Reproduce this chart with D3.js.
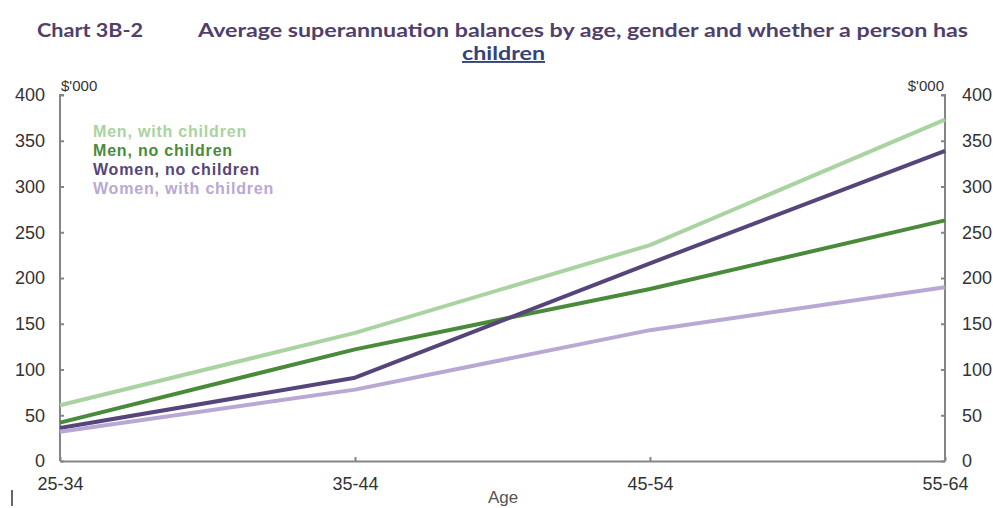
<!DOCTYPE html>
<html>
<head>
<meta charset="utf-8">
<script src="https://cdn.jsdelivr.net/npm/d3@7"></script>
<style>
  body { margin: 0; background: #fff; }
  svg { display: block; }
</style>
</head>
<body>
<svg id="chart" width="993" height="508"></svg>
<script>
// Age groups along the horizontal axis
const ageGroups = ["25-34", "35-44", "45-54", "55-64"];

// Average balances, $'000
const menWithChildren   = [61, 140, 236, 373];
const menNoChildren     = [42, 122, 188, 263];
const womenNoChildren   = [36, 91, 216, 339];
const womenWithChildren = [32, 78, 143, 190];

const seriesNames  = ["Men, with children", "Men, no children", "Women, no children", "Women, with children"];
const seriesColors = ["#a9d3a0", "#4a8b3b", "#56457a", "#b9a8d4"];
const seriesValues = [menWithChildren, menNoChildren, womenNoChildren, womenWithChildren];

const yTicks = [0, 50, 100, 150, 200, 250, 300, 350, 400];

const svg = d3.select("#chart");
const plotLeft = 60, plotRight = 945, plotTop = 95, plotBottom = 461;

const x = d3.scalePoint().domain(ageGroups).range([plotLeft, plotRight]);
const y = d3.scaleLinear().domain([0, 400]).range([plotBottom, plotTop]);

// Title
const titleFont = "Lato, 'Open Sans', sans-serif";
svg.append("text")
  .attr("x", 37).attr("y", 37)
  .attr("font-family", titleFont)
  .attr("font-weight", "bold").attr("font-size", 19)
  .attr("fill", "#4f406b")
  .attr("textLength", 106).attr("lengthAdjust", "spacingAndGlyphs")
  .text("Chart 3B-2");
svg.append("text")
  .attr("x", 198).attr("y", 37)
  .attr("font-family", titleFont)
  .attr("font-weight", "bold").attr("font-size", 19)
  .attr("fill", "#4f406b")
  .attr("textLength", 770).attr("lengthAdjust", "spacingAndGlyphs")
  .text("Average superannuation balances by age, gender and whether a person has");
svg.append("text")
  .attr("x", 462).attr("y", 60)
  .attr("font-family", titleFont)
  .attr("font-weight", "bold").attr("font-size", 19)
  .attr("fill", "#33437c")
  .attr("text-decoration", "underline")
  .attr("textLength", 83).attr("lengthAdjust", "spacingAndGlyphs")
  .text("children");

// Axes
const tickFont = "Arial, 'Liberation Sans', sans-serif";
const yLeft = d3.axisLeft(y).tickValues(yTicks).tickSize(4).tickPadding(11);
const yRight = d3.axisRight(y).tickValues(yTicks).tickSize(4).tickPadding(13);
const xAxis = d3.axisBottom(x).tickSize(4).tickSizeOuter(0);

function styleAxis(g) {
  g.selectAll("path, line").attr("stroke", "#858585").attr("stroke-width", 2);
  g.selectAll("text").attr("font-family", tickFont).attr("font-size", 18).attr("fill", "#333");
}

const gl = svg.append("g").attr("transform", `translate(${plotLeft},0)`).call(yLeft).call(styleAxis);
gl.select(".domain").attr("d", `M4,${plotTop}H0V${plotBottom}`);
gl.selectAll(".tick line").attr("x2", 4);

const gr = svg.append("g").attr("transform", `translate(${plotRight},0)`).call(yRight).call(styleAxis);
gr.select(".domain").attr("d", `M-4,${plotTop}H0V${plotBottom}`);
gr.selectAll(".tick line").attr("x2", -4);

const gx = svg.append("g").attr("transform", `translate(0,${plotBottom})`).call(xAxis).call(styleAxis);
gx.selectAll(".tick line").attr("y2", -4);
gx.selectAll(".tick text").attr("y", 29).attr("dy", 0);

// Axis unit labels
svg.append("text").attr("x", 61).attr("y", 91)
  .attr("font-family", tickFont).attr("font-size", 15).attr("fill", "#333")
  .text("$'000");
svg.append("text").attr("x", 944).attr("y", 91).attr("text-anchor", "end")
  .attr("font-family", tickFont).attr("font-size", 15).attr("fill", "#333")
  .text("$'000");
svg.append("text").attr("x", 503).attr("y", 503).attr("text-anchor", "middle")
  .attr("font-family", tickFont).attr("font-size", 17).attr("fill", "#555")
  .text("Age");

// Series lines
const line = d3.line().x((d, i) => x(ageGroups[i])).y(d => y(d));
svg.append("g").selectAll("path")
  .data(seriesValues)
  .join("path")
  .attr("d", line)
  .attr("fill", "none")
  .attr("stroke", (d, i) => seriesColors[i])
  .attr("stroke-width", 4)
  .attr("stroke-linejoin", "round");

// Legend
svg.append("g").selectAll("text")
  .data(seriesNames)
  .join("text")
  .attr("x", 93)
  .attr("y", (d, i) => 137 + i * 19)
  .attr("font-family", tickFont)
  .attr("font-weight", "bold")
  .attr("font-size", 16)
  .attr("letter-spacing", 0.8)
  .attr("fill", (d, i) => seriesColors[i])
  .text(d => d);

// Small mark at the lower left edge
svg.append("line").attr("x1", 12).attr("x2", 12).attr("y1", 490).attr("y2", 506)
  .attr("stroke", "#333").attr("stroke-width", 1.5);
</script>
</body>
</html>
